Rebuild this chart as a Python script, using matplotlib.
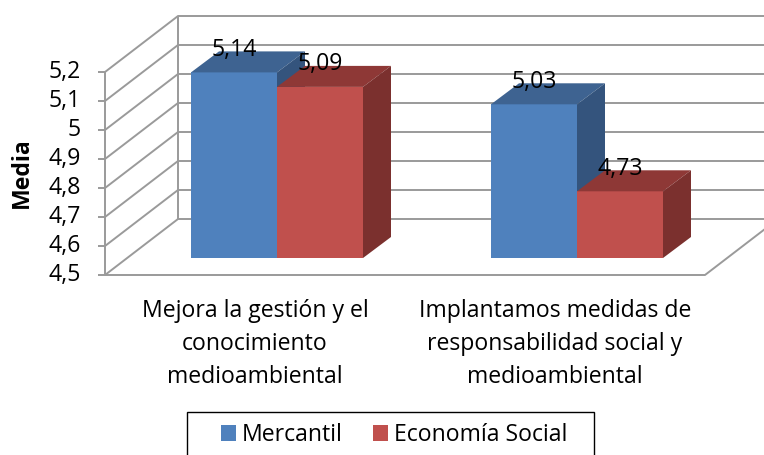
import matplotlib.pyplot as plt
from matplotlib.patches import Polygon, Patch, Rectangle

# datos
categorias = ['Mejora la gestión y el\nconocimiento\nmedioambiental',
              'Implantamos medidas de\nresponsabilidad social y\nmedioambiental']
series = ['Mercantil', 'Economía Social']
mercantil = [5.14, 5.03]
economia_social = [5.09, 4.73]
ticks = [4.5, 4.6, 4.7, 4.8, 4.9, 5.0, 5.1, 5.2]
tick_labels = ['4,5', '4,6', '4,7', '4,8', '4,9', '5', '5,1', '5,2']

# colores: frente, arriba, lado
azul = ('#4F81BD', '#3E6391', '#34547D')
rojo = ('#C0504D', '#8E3836', '#7B302E')
gris = '#9A9A9A'

plt.rcParams['font.family'] = ['Open Sans', 'DejaVu Sans']
fs = 16.6

W, H = 764, 455
fig = plt.figure(figsize=(W / 100, H / 100), dpi=100)
# plano frontal de las barras (pixeles de la imagen)
x0, x1, ytop, ybot = 127, 727, 55, 258
ax = fig.add_axes([x0 / W, 1 - ybot / H, (x1 - x0) / W, (ybot - ytop) / H])
ax.set_xlim(0, 2)
ax.set_ylim(4.5, 5.2)
ax.axis('off')
sx = (x1 - x0) / 2
sy = (ybot - ytop) / 0.7


def d(px, py):
    # desplazamiento en pixeles -> unidades de datos
    return px / sx, -py / sy


fx, fy = d(-22, 17)   # pared delantera
bx, by = d(51, -39)   # pared trasera
px_, py_ = d(28, -21)  # profundidad de la barra

lk = dict(color=gris, lw=1.4, clip_on=False, zorder=1, solid_capstyle='butt')
for t, lab in zip(ticks, tick_labels):
    ax.plot([fx, bx, 2 + bx], [t + fy, t + by, t + by], **lk)
    ax.plot([fx - 7 / sx, fx], [t + fy, t + fy], **lk)
    ax.text(fx - 24 / sx, t + fy, lab, ha='right', va='center', fontsize=fs)
ax.plot([fx, 2 + fx, 2 + bx], [4.5 + fy, 4.5 + fy, 4.5 + by], **lk)
ax.plot([fx, fx], [4.5 + fy, 5.2 + fy], **lk)
ax.plot([bx, bx], [4.5 + by, 5.2 + by], **lk)

w = 86 / sx
for i in range(len(categorias)):
    for j, (vals, cols) in enumerate([(mercantil, azul), (economia_social, rojo)]):
        v = vals[i]
        xl = i + 0.5 - w + j * w
        z = 3 + j
        ax.bar(xl, v - 4.5, w, bottom=4.5, align='edge', color=cols[0],
               clip_on=False, zorder=z)
        ax.add_patch(Polygon([(xl, v), (xl + w, v), (xl + w + px_, v + py_),
                              (xl + px_, v + py_)], closed=True,
                             facecolor=cols[1], edgecolor='none', clip_on=False, zorder=z))
        ax.add_patch(Polygon([(xl + w, 4.5), (xl + w + px_, 4.5 + py_),
                              (xl + w + px_, v + py_), (xl + w, v)], closed=True,
                             facecolor=cols[2], edgecolor='none', clip_on=False, zorder=z))
        ax.annotate(f'{v:.2f}'.replace('.', ','), (xl + w / 2, v), xytext=(0, 22.5 * 0.72),
                    textcoords='offset points', ha='center', va='center',
                    fontsize=fs, zorder=10, annotation_clip=False)
    ax.text(i + 0.5 + fx, 4.5 - (344 - 258) / sy, categorias[i], ha='center',
            va='center', fontsize=fs, linespacing=1.5)

fig.text(22 / W, 1 - 173 / H, 'Media', rotation=90, ha='center', va='center',
         fontsize=fs, fontweight='bold')

# marco de la leyenda (cortado abajo como en el original)
fig.patches.append(Rectangle((187 / W, 1 - 462 / H), (594 - 187) / W, 50 / H,
                             transform=fig.transFigure, facecolor='white',
                             edgecolor='black', lw=1.0, zorder=0))
handles = [Patch(facecolor=azul[0]), Patch(facecolor=rojo[0])]
leg = fig.legend(handles, series, loc='center', bbox_to_anchor=(394 / W, 1 - 435 / H),
                 ncol=2, frameon=False, fontsize=fs,
                 handlelength=0.65, handleheight=0.65, handletextpad=0.25,
                 columnspacing=1.35, borderpad=0, borderaxespad=0)

fig.savefig('out.png', dpi=100)
